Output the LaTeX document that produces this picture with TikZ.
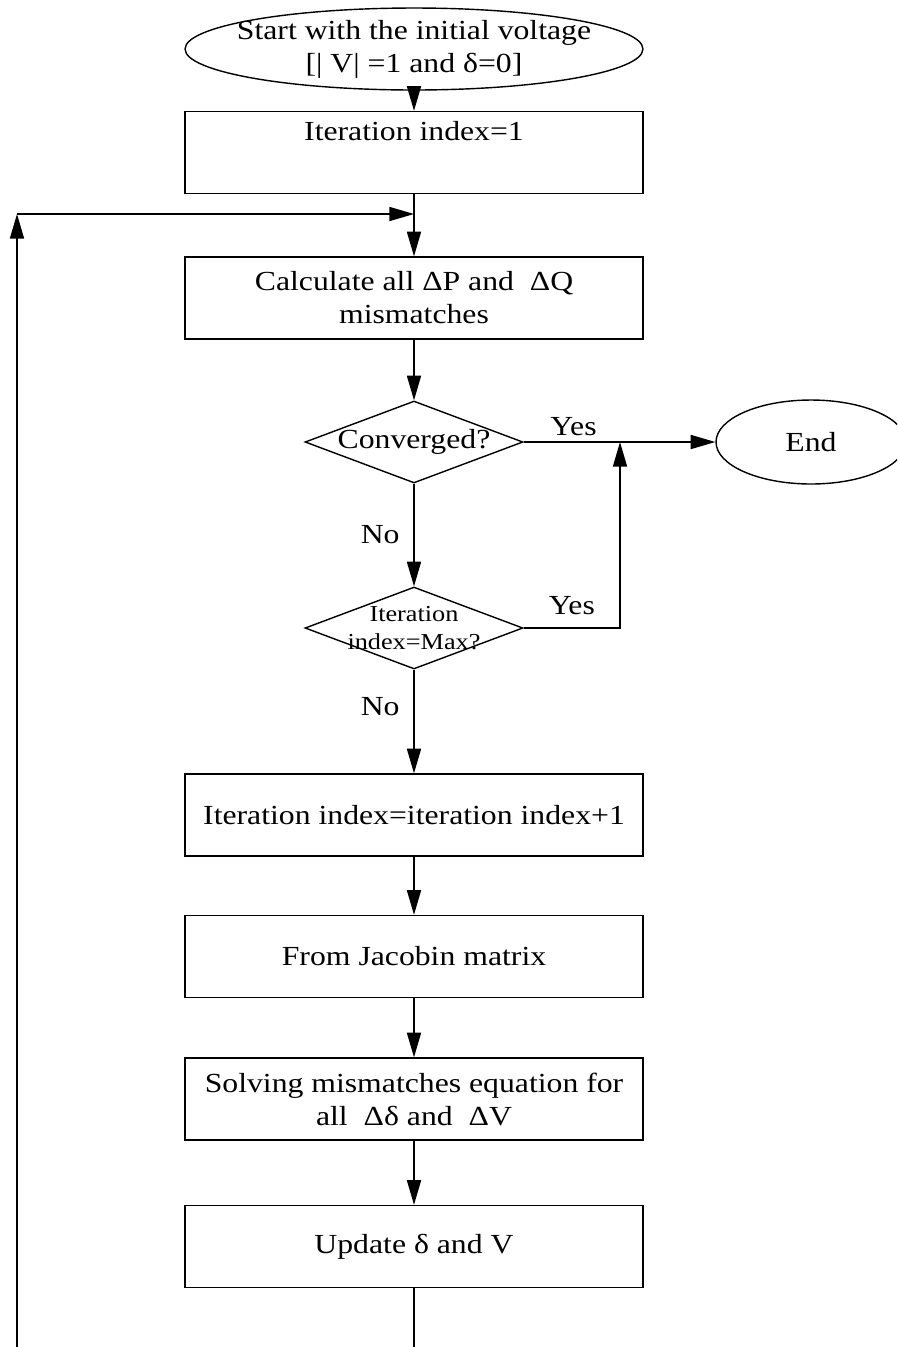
\documentclass[tikz,border=0pt]{standalone}
\usepackage{fontspec}
\setmainfont{Liberation Serif}[FakeStretch=1.15]
\usetikzlibrary{shapes.geometric,arrows.meta}
\begin{document}
\begin{tikzpicture}[x=0.02cm, y=-0.02cm, line width=0.8pt,
      font=\fontsize{15.7}{18.8}\selectfont,
      >={Triangle[length=14pt,width=8pt]},
      b/.style={draw, minimum width=9.16cm, minimum height=1.64cm, align=center, inner sep=0pt},
      e/.style={draw, ellipse, inner sep=0pt},
      d/.style={draw, diamond, minimum width=4.36cm, minimum height=1.64cm, inner sep=0pt},
      sm/.style={font=\fontsize{13}{15.9}\selectfont}]
      \clip (0,0) rectangle (897,1347);
      \node[e, minimum width=9.16cm, minimum height=1.64cm,
        label={[align=center]center:Start with the initial voltage\\{[| V| =1 and δ=0]}}] (start) at (414,49) {};
      \node[b] (init) at (414,152.5) {Iteration index=1\\\strut};
      \node[b] (calc) at (414,298) {Calculate all ΔP and \ ΔQ\\mismatches};
      \node[d, label={center:Converged?}] (conv) at (414,442) {};
      \node[e, minimum width=3.8cm, minimum height=1.68cm] (endn) at (811,442) {End};
      \node[d, label={[align=center, sm]center:Iteration\\index=Max?}] (maxd) at (414,628) {};
      \node[b] (incr) at (414,815) {Iteration index=iteration index+1};
      \node[b] (jac) at (414,956.5) {From Jacobin matrix};
      \node[b] (solve) at (414,1099) {Solving mismatches equation for\\all \ Δδ and \ ΔV};
      \node[b] (upd) at (414,1246.5) {Update δ and V};
      \coordinate (join) at (414,214);
      \coordinate (back) at (17,214);
      \coordinate (low) at (414,1400);
      \coordinate (mrg) at (620,442);
      \draw[->] (start) -- (init);
      \draw[->] (init) -- (calc);
      \draw[->] (calc) -- (conv);
      \draw[->] (conv) -- node[above, pos=0.26]{Yes} (endn);
      \draw[->] (conv) -- node[left=4.5pt, pos=0.5]{No} (maxd);
      \draw[->] (maxd.east) -| node[above=4pt, pos=0.25]{Yes} (mrg);
      \draw[->] (maxd) -- node[left=4.5pt, pos=0.36]{No} (incr);
      \draw[->] (incr) -- (jac);
      \draw[->] (jac) -- (solve);
      \draw[->] (solve) -- (upd);
      \draw[->] (upd) -- (low) -| (back);
      \draw[->] (back) -- (join);
\end{tikzpicture}
\end{document}
